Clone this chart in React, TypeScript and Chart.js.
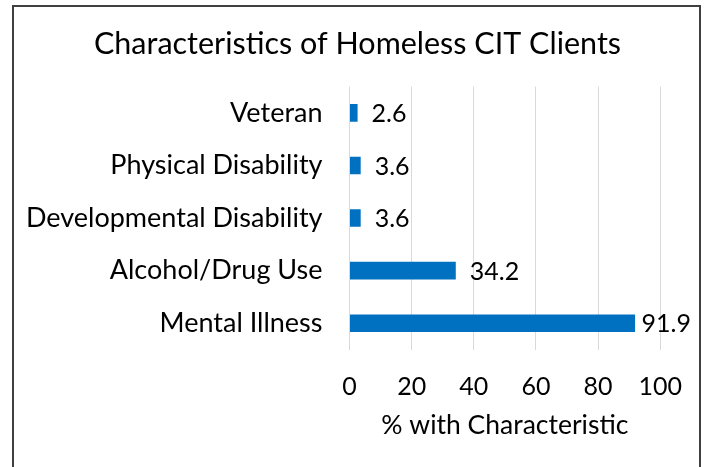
import React, { useEffect, useRef } from "react";
import { Chart, registerables } from "chart.js";

Chart.register(...registerables);

const categories = [
  "Veteran",
  "Physical Disability",
  "Developmental Disability",
  "Alcohol/Drug Use",
  "Mental Illness",
];
const values = [2.6, 3.6, 3.6, 34.2, 91.9];
const xTicks = [0, 20, 40, 60, 80, 100];
const titleText = "Characteristics of Homeless CIT Clients";
const xTitleText = "% with Characteristic";

const FONT = "Lato, 'Open Sans', sans-serif";
const BAR_COLOR = "#0070C0";

const valueLabels = {
  id: "valueLabels",
  afterDatasetsDraw(chart: any) {
    const ctx = chart.ctx;
    const meta = chart.getDatasetMeta(0);
    ctx.save();
    ctx.font = `25px ${FONT}`;
    ctx.fillStyle = "#000";
    ctx.textAlign = "left";
    ctx.textBaseline = "middle";
    const maxRight = chart.width - 13;
    meta.data.forEach((bar: any, i: number) => {
      const txt = String(values[i]);
      const w = ctx.measureText(txt).width;
      let x = bar.x + 14;
      if (x + w > maxRight) x = maxRight - w;
      ctx.fillText(txt, x, bar.y + 1);
    });
    ctx.restore();
  },
};

export default function App() {
  const ref = useRef<HTMLCanvasElement>(null);
  useEffect(() => {
    if (!ref.current) return;
    const chart = new Chart(ref.current, {
      type: "bar",
      data: {
        labels: categories,
        datasets: [
          {
            data: values,
            backgroundColor: BAR_COLOR,
            borderWidth: 0,
            categoryPercentage: 0.5,
            barPercentage: 0.67,
            yAxisID: "y",
          },
        ],
      },
      options: {
        indexAxis: "y",
        animation: false,
        responsive: false,
        maintainAspectRatio: false,
        layout: { padding: { left: 14, right: 3, top: 0, bottom: 0 } },
        plugins: {
          legend: { display: false },
          tooltip: { enabled: false },
          title: {
            display: true,
            text: titleText,
            color: "#000",
            font: { family: FONT, size: 30.5, weight: "normal" },
            padding: { top: 26, bottom: 24 },
          },
        },
        scales: {
          x: {
            min: 0,
            max: 100,
            afterBuildTicks: (scale: any) => {
              scale.ticks = xTicks.map((v) => ({ value: v }));
            },
            ticks: {
              color: "#000",
              font: { family: FONT, size: 25 },
              padding: 22,
              maxRotation: 0,
            },
            grid: { color: "#d9d9d9", drawTicks: false, lineWidth: 1 },
            border: { display: false },
            title: {
              display: true,
              text: xTitleText,
              color: "#000",
              font: { family: FONT, size: 26.5 },
              padding: { top: 4, bottom: 26 },
            },
            afterFit: (scale: any) => {
              scale.height = 467 - 349.5;
            },
          },
          y: {
            position: "left",
            ticks: {
              color: "#000",
              font: { family: FONT, size: 27 },
              padding: 27,
            },
            grid: { display: false, drawTicks: false },
            border: { display: false },
            afterFit: (scale: any) => {
              scale.width = 349.5 - 14;
            },
          },
          yRight: {
            type: "category",
            position: "right",
            labels: categories,
            ticks: { display: false },
            grid: { display: false, drawTicks: false },
            border: { display: false },
            afterFit: (scale: any) => {
              scale.width = 704 - 3 - 662;
            },
          },
        },
      },
      plugins: [valueLabels],
    } as any);
    return () => chart.destroy();
  }, []);

  return (
    <div
      style={{
        position: "absolute",
        left: 0,
        top: 0,
        width: 704,
        height: 467,
        background: "#fff",
        overflow: "hidden",
      }}
    >
      <canvas
        ref={ref}
        width={704}
        height={467}
        style={{ position: "absolute", left: 0, top: 0, width: 704, height: 467 }}
      />
      <div
        style={{
          position: "absolute",
          left: 12,
          top: 5,
          width: 701 - 12 - 4,
          height: 500,
          border: "2px solid #404040",
          pointerEvents: "none",
        }}
      />
    </div>
  );
}
